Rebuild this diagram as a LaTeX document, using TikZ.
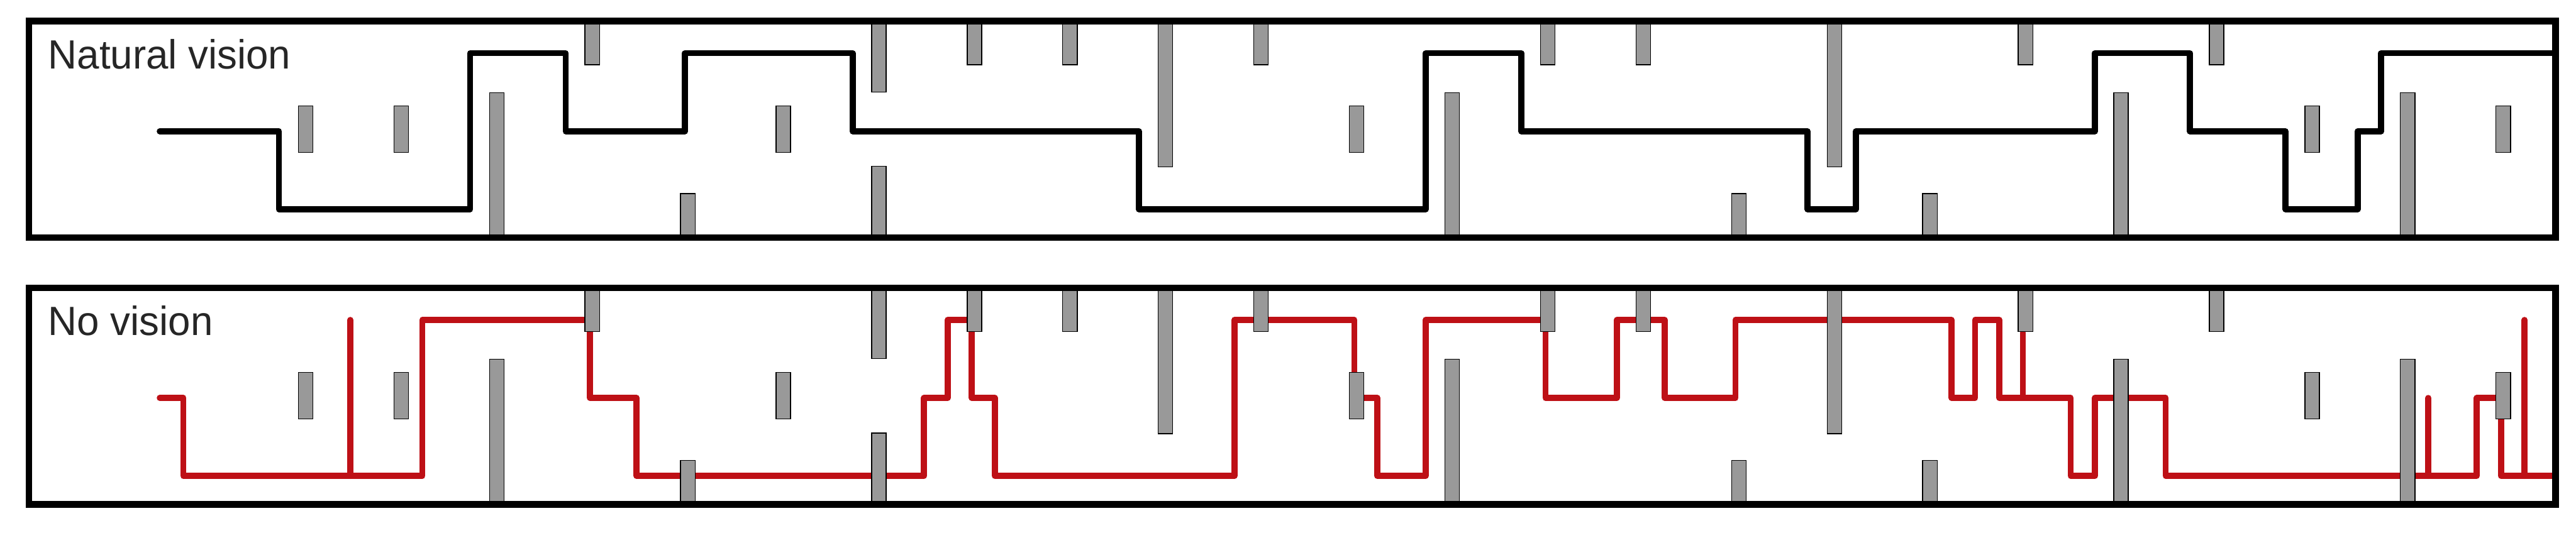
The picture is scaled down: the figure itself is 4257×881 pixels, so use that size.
\documentclass[tikz,border=0pt]{standalone}
\usepackage{fontspec}
\setmainfont{Liberation Sans}
\definecolor{barg}{RGB}{153,153,153}
\definecolor{trail}{RGB}{190,16,22}
\definecolor{txt}{RGB}{38,38,38}
\tikzset{
  frame/.style={draw=black, line width=1.1mm, line join=miter},
  obst/.style={fill=barg, draw=black, line width=0.14mm},
  pathnat/.style={draw=black, line width=1.0mm, line join=round, line cap=round},
  pathno/.style={draw=trail, line width=1.0mm, line join=round, line cap=round},
  label/.style={anchor=base west, inner sep=0pt, text=txt, font=\fontsize{19.2}{22}\selectfont}
}
\begin{document}
\begin{tikzpicture}[x=0.01cm,y=-0.01cm]
\useasboundingbox (0,0) rectangle (4257,881);
% ---------- trajectories ----------
\def\H{88}\def\M{217}\def\L{346}
\draw[pathnat] (264,\M) -- (461,\M) -- (461,\L) -- (777,\L) -- (777,\H) -- (935,\H) -- (935,\M)
  -- (1132,\M) -- (1132,\H) -- (1409,\H) -- (1409,\M) -- (1882,\M) -- (1882,\L) -- (2356,\L)
  -- (2356,\H) -- (2514,\H) -- (2514,\M) -- (2987,\M) -- (2987,\L) -- (3067,\L) -- (3067,\M)
  -- (3462,\M) -- (3462,\H) -- (3619,\H) -- (3619,\M) -- (3777,\M) -- (3777,\L) -- (3896,\L)
  -- (3896,\M) -- (3935,\M) -- (3935,\H) -- (4223,\H);
\def\h{529}\def\m{658}\def\l{787}
\draw[pathno] (264,\m) -- (303,\m) -- (303,\l) -- (698,\l) -- (698,\h) -- (975,\h) -- (975,\m)
  -- (1052,\m) -- (1052,\l) -- (1527,\l) -- (1527,\m) -- (1566,\m) -- (1566,\h) -- (1606,\h)
  -- (1606,\m) -- (1644,\m) -- (1644,\l) -- (2040,\l) -- (2040,\h) -- (2238,\h) -- (2238,\m)
  -- (2276,\m) -- (2276,\l) -- (2356,\l) -- (2356,\h) -- (2554,\h) -- (2554,\m) -- (2672,\m)
  -- (2672,\h) -- (2751,\h) -- (2751,\m) -- (2868,\m) -- (2868,\h) -- (3225,\h) -- (3225,\m)
  -- (3264,\m) -- (3264,\h) -- (3304,\h) -- (3304,\m) -- (3422,\m) -- (3422,\l) -- (3462,\l)
  -- (3462,\m) -- (3579,\m) -- (3579,\l) -- (4093,\l) -- (4093,\m) -- (4133,\m) -- (4133,\l)
  -- (4218,\l);
\draw[pathno] (579,\l) -- (579,\h);
\draw[pathno] (3343,\m) -- (3343,550);
\draw[pathno] (4013,\l) -- (4013,\m);
\draw[pathno] (4172,\l) -- (4172,\h);
% ---------- obstacles ----------
\foreach \off in {0,441}{
  \foreach \k in {3,7,8,10,13,14,18,20}{
    \pgfmathsetmacro\xc{505+157.9*\k}
    \draw[obst] (\xc-12,35+\off) rectangle (\xc+12,107+\off);}
  \foreach \k in {6}{
    \pgfmathsetmacro\xc{505+157.9*\k}
    \draw[obst] (\xc-12,35+\off) rectangle (\xc+12,152+\off);
    \draw[obst] (\xc-12,275+\off) rectangle (\xc+12,393+\off);}
  \foreach \k in {9,16}{
    \pgfmathsetmacro\xc{505+157.9*\k}
    \draw[obst] (\xc-12,35+\off) rectangle (\xc+12,276+\off);}
  \foreach \k in {0,1,5,11,21,23}{
    \pgfmathsetmacro\xc{505+157.9*\k}
    \draw[obst] (\xc-12,175+\off) rectangle (\xc+12,252+\off);}
  \foreach \k in {4,15,17}{
    \pgfmathsetmacro\xc{505+157.9*\k}
    \draw[obst] (\xc-12,320+\off) rectangle (\xc+12,393+\off);}
  \foreach \k in {2,12,19,22}{
    \pgfmathsetmacro\xc{505+157.9*\k}
    \draw[obst] (\xc-12,153+\off) rectangle (\xc+12,393+\off);}
}
% ---------- frames ----------
\draw[frame] (48,35) rectangle (4223,393);
\draw[frame] (48,476) rectangle (4223,834);
% ---------- labels ----------
\node[label] (nat) at (79,114) {\scalebox{0.98}[1]{Natural vision}};
\node[label] (nov) at (79,554) {\scalebox{0.98}[1]{No vision}};
\end{tikzpicture}
\end{document}
